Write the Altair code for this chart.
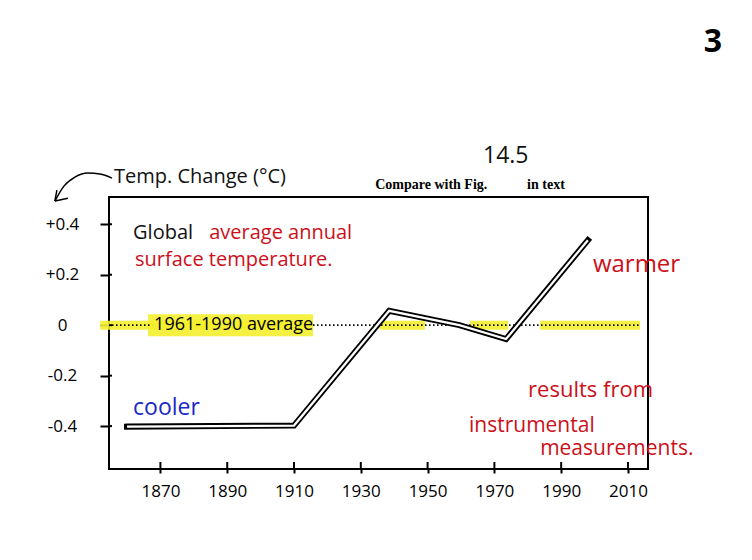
import altair as alt
import pandas as pd

# ---- data ----
years = [1860, 1910, 1938.5, 1959.5, 1973.5, 1998]
temps = [-0.402, -0.398, 0.057, 0.0, -0.055, 0.337]

x_ticks = [1870, 1890, 1910, 1930, 1950, 1970, 1990, 2010]
y_ticks = [0.4, 0.2, 0.0, -0.2, -0.4]
y_labels = ["+0.4", "+0.2", "0", "-0.2", "-0.4"]

# annotation texts
note_text = ["Global", "average annual", "surface temperature.", "warmer", "cooler",
             "results from", "instrumental", "measurements.", "Temp. Change (°C)", "14.5"]
note_x = [1861.8, 1884.6, 1862.4, 1999.5, 1861.8, 1980.1, 1962.4, 1983.7, 1856.1, 1966.6]
note_y = [0.343, 0.343, 0.236, 0.211, -0.356, -0.286, -0.423, -0.515, 0.563, 0.642]
note_color = ["#111111", "#cc0f1a", "#cc0f1a", "#cc0f1a", "#1a28c8",
              "#cc0f1a", "#cc0f1a", "#cc0f1a", "#111111", "#111111"]
note_size = [20, 20, 20, 24, 23, 22, 21, 21, 20, 23]

print_text = ["Compare with Fig.", "in text"]
print_x = [1934.3, 1979.8]
print_y = [0.539, 0.539]

label_text = ["1961-1990 average"]
label_x = [1868.1]
label_y = [0.0]

page_text = ["3"]
page_x = [2035.4]
page_y = [1.082]

# yellow highlighter segments along the zero line
hl_x1 = [1852.0, 1935.7, 1962.7, 1983.7]
hl_x2 = [1915.7, 1949.2, 1974.1, 2013.6]
hl_lab_x1 = [1866.3]
hl_lab_x2 = [1915.7]

# dotted zero line segments
dot_x1 = [1855.5, 1915.7]
dot_x2 = [1867.5, 2013.6]

# hand-drawn arrow from the axis title
arrow_x = [1855.5, 1851.9, 1848.3, 1844.4, 1841.1, 1838.4]
arrow_y = [0.583, 0.599, 0.603, 0.587, 0.551, 0.492]
head_x1 = [1838.4, 1838.4]
head_y1 = [0.492, 0.492]
head_x2 = [1839.0, 1842.3]
head_y2 = [0.535, 0.503]

X_DOMAIN = [1854.6, 2016]
Y_DOMAIN = [-0.57, 0.508]
W, H = 539, 272
HAND = "Open Sans"

xs = alt.Scale(domain=X_DOMAIN, nice=False, zero=False)
ys = alt.Scale(domain=Y_DOMAIN, nice=False, zero=False)

label_expr = ""
for v, l in zip(y_ticks, y_labels):
    label_expr += f"abs(datum.value - ({v})) < 1e-6 ? '{l}' : "
label_expr += "''"

line_df = pd.DataFrame({"year": years, "temp": temps})
note_df = pd.DataFrame({"t": note_text, "x": note_x, "y": note_y, "c": note_color, "s": note_size})
print_df = pd.DataFrame({"t": print_text, "x": print_x, "y": print_y})
lab_df = pd.DataFrame({"t": label_text, "x": label_x, "y": label_y})
page_df = pd.DataFrame({"t": page_text, "x": page_x, "y": page_y})
hl_df = pd.DataFrame({"x1": hl_x1, "x2": hl_x2, "y": [0.0] * len(hl_x1)})
hl_lab_df = pd.DataFrame({"x1": hl_lab_x1, "x2": hl_lab_x2, "y": [0.0]})
dot_df = pd.DataFrame({"x1": dot_x1, "x2": dot_x2, "y": [0.0] * len(dot_x1)})
arrow_df = pd.DataFrame({"x": arrow_x, "y": arrow_y})
head_df = pd.DataFrame({"x1": head_x1, "y1": head_y1, "x2": head_x2, "y2": head_y2})
xt_df = pd.DataFrame({"x": x_ticks})
yt_df = pd.DataFrame({"y": y_ticks})

base_x = alt.X("year:Q", scale=xs, axis=alt.Axis(
    values=x_ticks, format="d", title=None, grid=False, domain=False,
    tickSize=4, tickWidth=2, tickColor="black",
    labelFont=HAND, labelFontSize=17, labelColor="black", labelPadding=10))
base_y = alt.Y("temp:Q", scale=ys, axis=alt.Axis(
    values=y_ticks, labelExpr=label_expr, title=None, grid=False, domain=False,
    tickSize=9, tickWidth=2, tickColor="black",
    labelFont=HAND, labelFontSize=17, labelColor="black",
    labelAlign="center", labelBaseline="middle", labelPadding=38))

highlight = alt.Chart(hl_df).mark_rule(color="#f4ef2e", strokeWidth=9, opacity=0.9).encode(
    x=alt.X("x1:Q", scale=xs), x2="x2:Q", y=alt.Y("y:Q", scale=ys))
highlight_lab = alt.Chart(hl_lab_df).mark_rule(color="#f4ef2e", strokeWidth=22, opacity=0.9).encode(
    x=alt.X("x1:Q", scale=xs), x2="x2:Q", y=alt.Y("y:Q", scale=ys))
dots = alt.Chart(dot_df).mark_rule(color="black", strokeWidth=1.8, strokeDash=[1.5, 2.5]).encode(
    x=alt.X("x1:Q", scale=xs), x2="x2:Q", y=alt.Y("y:Q", scale=ys))

outer = alt.Chart(line_df).mark_line(color="black", strokeWidth=6, strokeCap="square",
                                     strokeJoin="miter").encode(x=base_x, y=base_y)
inner = alt.Chart(line_df).mark_line(color="white", strokeWidth=2.3, strokeCap="butt",
                                     strokeJoin="miter").encode(
    x=alt.X("year:Q", scale=xs), y=alt.Y("temp:Q", scale=ys))

x_in = alt.Chart(xt_df).mark_rule(color="black", strokeWidth=2).encode(
    x=alt.X("x:Q", scale=xs), y=alt.value(H - 7), y2=alt.value(H))
y_in = alt.Chart(yt_df).mark_rule(color="black", strokeWidth=2).encode(
    y=alt.Y("y:Q", scale=ys), x=alt.value(0), x2=alt.value(3))

notes = alt.Chart(note_df).mark_text(font=HAND, align="left", baseline="alphabetic").encode(
    x=alt.X("x:Q", scale=xs), y=alt.Y("y:Q", scale=ys), text="t:N",
    color=alt.Color("c:N", scale=None), size=alt.Size("s:Q", scale=None))
printed = alt.Chart(print_df).mark_text(font="Liberation Serif", fontWeight="bold", fontSize=14,
                                        align="left", baseline="alphabetic", color="black").encode(
    x=alt.X("x:Q", scale=xs), y=alt.Y("y:Q", scale=ys), text="t:N")
lab = alt.Chart(lab_df).mark_text(font=HAND, fontSize=18, align="left", baseline="middle",
                                  color="black").encode(
    x=alt.X("x:Q", scale=xs), y=alt.Y("y:Q", scale=ys), text="t:N")
page = alt.Chart(page_df).mark_text(font=HAND, fontSize=32, fontWeight="bold", align="center",
                                    baseline="alphabetic", color="black").encode(
    x=alt.X("x:Q", scale=xs), y=alt.Y("y:Q", scale=ys), text="t:N")

arrow = alt.Chart(arrow_df).mark_line(color="black", strokeWidth=1.5, interpolate="monotone").encode(
    x=alt.X("x:Q", scale=xs), y=alt.Y("y:Q", scale=ys))
head = alt.Chart(head_df).mark_rule(color="black", strokeWidth=1.5).encode(
    x=alt.X("x1:Q", scale=xs), y=alt.Y("y1:Q", scale=ys), x2="x2:Q", y2="y2:Q")

chart = alt.layer(
    highlight, highlight_lab, dots, outer, inner, x_in, y_in,
    notes, printed, lab, page, arrow, head
).properties(
    width=W, height=H,
    autosize=alt.AutoSizeParams(type="none"),
    padding={"left": 101, "top": 189, "right": 96, "bottom": 83},
    background="white",
).configure_view(stroke="black", strokeWidth=2)

chart.save("out.html", embed_options={"renderer": "svg", "actions": False})
